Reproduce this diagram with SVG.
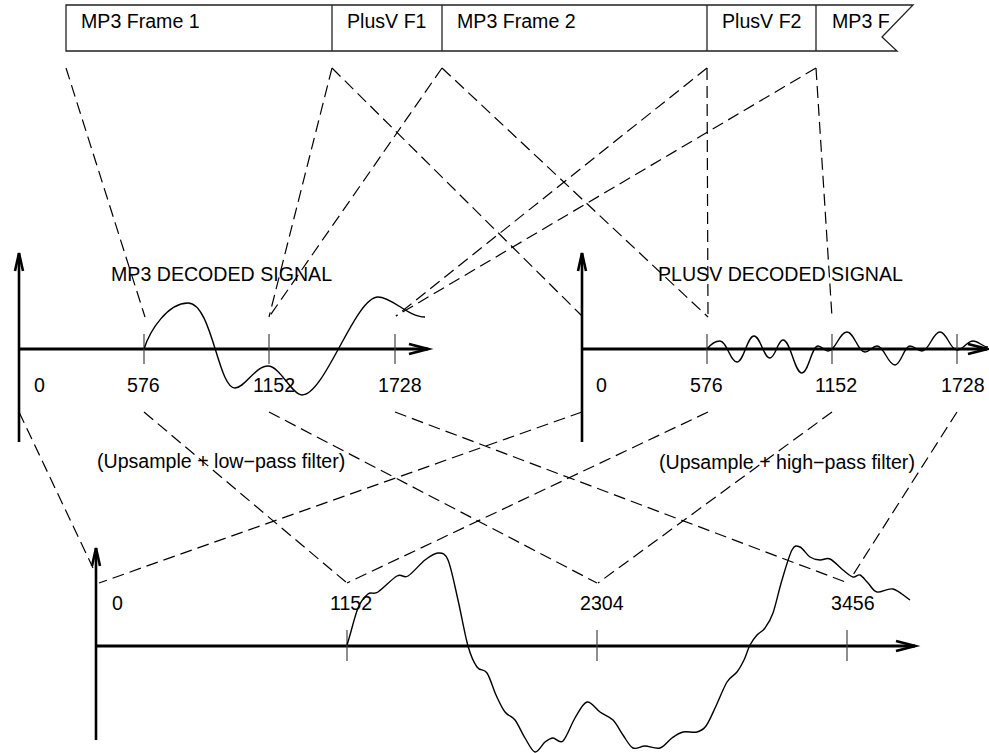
<svg xmlns="http://www.w3.org/2000/svg" width="989" height="753" viewBox="0 0 989 753">
<defs>
<style>
text { font-family: "Liberation Sans", Arial, Helvetica, sans-serif; font-size: 19.6px; fill: #000; }
.frame { fill: #fff; stroke: #222; stroke-width: 1.3; }
.div { stroke: #222; stroke-width: 1.3; }
.axis { stroke: #000; stroke-width: 3; fill: none; }
.yaxis { stroke: #000; stroke-width: 2.6; fill: none; }
.tick { stroke: #444; stroke-width: 1.2; }
.sig { stroke: #000; stroke-width: 1.4; fill: none; }
.dash { stroke: #000; stroke-width: 1.2; stroke-dasharray: 12 6; fill: none; }
</style>
<marker id="ax" markerUnits="userSpaceOnUse" markerWidth="26" markerHeight="16" refX="21" refY="8" orient="auto" overflow="visible">
<path d="M2,3 L21,8 L2,13" fill="none" stroke="#000" stroke-width="2.8"/>
</marker>
<marker id="ay" markerUnits="userSpaceOnUse" markerWidth="24" markerHeight="12" refX="20" refY="6" orient="auto" overflow="visible">
<path d="M2,2 L20,6 L2,10" fill="none" stroke="#000" stroke-width="2.6"/>
</marker>
<clipPath id="flagclip"><polygon points="66,5 913,5 882,37 897,51 66,51"/></clipPath>
</defs>

<g id="bitstream">
<polygon class="frame" points="66,5 913,5 882,37 897,51 66,51"/>
<line class="div" x1="332" y1="5" x2="332" y2="51"/>
<line class="div" x1="442" y1="5" x2="442" y2="51"/>
<line class="div" x1="707" y1="5" x2="707" y2="51"/>
<line class="div" x1="816" y1="5" x2="816" y2="51"/>
<text x="81" y="28">MP3 Frame 1</text>
<text x="347" y="28">PlusV F1</text>
<text x="457" y="28">MP3 Frame 2</text>
<text x="722" y="28">PlusV F2</text>
<text x="832" y="28" clip-path="url(#flagclip)">MP3 F</text>
</g>

<g id="mp3-plot">
<line class="yaxis" x1="19" y1="442" x2="19" y2="253" marker-end="url(#ay)"/>
<line class="axis" x1="19" y1="349" x2="428" y2="349" marker-end="url(#ax)"/>
<line class="tick" x1="144" y1="334" x2="144" y2="364"/>
<line class="tick" x1="269" y1="334" x2="269" y2="364"/>
<line class="tick" x1="395" y1="334" x2="395" y2="364"/>
<text x="34" y="392">0</text>
<text x="127" y="392">576</text>
<text x="253" y="392">1152</text>
<text x="378" y="392">1728</text>
<text x="111" y="281">MP3 DECODED SIGNAL</text>
<text x="97" y="468">(Upsample + low−pass filter)</text>
<path class="sig" d="M144,349 C150,330 168,303 188,303 C212,303 218,388 235,388 C245,388 255,366 268,366 C280,366 292,395 302,395 C325,395 355,297 378,297 C392,297 408,317 425,317"/>
</g>

<g id="plusv-plot">
<line class="yaxis" x1="582" y1="442" x2="582" y2="253" marker-end="url(#ay)"/>
<line class="axis" x1="582" y1="349" x2="987" y2="349" marker-end="url(#ax)"/>
<line class="tick" x1="707" y1="334" x2="707" y2="364"/>
<line class="tick" x1="832" y1="334" x2="832" y2="364"/>
<line class="tick" x1="957" y1="334" x2="957" y2="364"/>
<text x="596" y="392">0</text>
<text x="690" y="392">576</text>
<text x="815" y="392">1152</text>
<text x="941" y="392">1728</text>
<text x="658" y="281">PLUSV DECODED SIGNAL</text>
<text x="659" y="469">(Upsample + high−pass filter)</text>
<path class="sig" d="M707,349 C711,344 715,341 720,341 C726.8,341 730.2,362 737,362 C743.8,362 747.2,336 754,336 C760.4,336 763.6,358 770,358 C775.2,358 777.8,340 783,340 C790.6,340 794.4,373 802,373 C808.4,373 811.6,346 818,346 C822,346 824,351 828,351 C835.6,351 839.4,332 847,332 C854.2,332 857.8,352 865,352 C869.8,352 872.2,346 877,346 C884.2,346 887.8,365 895,365 C901,365 904,346 910,346 C914.8,346 917.2,351 922,351 C929.2,351 932.8,332 940,332 C946.8,332 950.2,350 957,350 C963.4,350 966.6,341 973,341 C979,341 982,347 988,347"/>
</g>

<g id="output-plot">
<line class="yaxis" x1="96" y1="740" x2="96" y2="548" marker-end="url(#ay)"/>
<line class="axis" x1="96" y1="646" x2="915" y2="646" marker-end="url(#ax)"/>
<line class="tick" x1="347" y1="630" x2="347" y2="661"/>
<line class="tick" x1="597" y1="630" x2="597" y2="661"/>
<line class="tick" x1="847" y1="630" x2="847" y2="661"/>
<text x="112" y="610">0</text>
<text x="330" y="610">1152</text>
<text x="580" y="610">2304</text>
<text x="831" y="610">3456</text>
<path class="sig" d="M347,645 C351,633 354.5,616.5 358,608 S364.7,596.7 368,594 S373.2,595 378,592 S392,578.7 397,576 S403.3,578.7 408,576 S420,563.8 425,560 S434.2,553 438,553 S444.7,552.2 448,560 S454.7,585.7 458,600 S464.8,634.8 468,646 S473.8,662.5 477,667 S483.8,668.3 487,673 S493,688.5 496,695 S501.8,707.8 505,712 S511.7,715.7 515,720 S521.7,732.7 525,738 S531.7,751.3 535,752 S542,744.3 545,742 S550,738.2 553,738 S559.3,744.3 563,741 S571,724.5 575,718 S582.8,703 587,702 S595.7,709 600,712 S609.2,716.2 613,720 S619.7,730.3 623,735 S629.3,746.2 633,748 S640.5,746 645,746 S655.5,749.3 660,748 S668.2,740.7 672,738 S678.8,733 683,732 S693.2,733 697,732 S702.8,730.3 706,726 S712.5,713.3 716,706 S723.5,687.7 727,682 S734.2,675.7 737,672 S741.8,664.5 744,660 S747.8,649.2 750,645 S754.5,637.8 757,635 S762.3,631.7 765,628 S770.2,621 773,613 S778.8,590.5 782,580 S789,555.5 792,550 S797,545.8 800,547 S806.7,554.8 810,557 S816.7,559.7 820,560 S826.2,557.3 830,559 S839.2,567 843,570 S850.2,576.2 853,577 S857.5,574 860,575 S865.2,580.2 868,583 S872.8,591 877,592 S887.5,587.7 893,589 S904.3,596.3 910,600"/>
</g>

<g id="connectors">
<line class="dash" x1="66" y1="68" x2="145" y2="317"/>
<line class="dash" x1="332" y1="68" x2="269" y2="317"/>
<line class="dash" x1="332" y1="68" x2="582" y2="316"/>
<line class="dash" x1="442" y1="68" x2="269" y2="317"/>
<line class="dash" x1="442" y1="68" x2="708" y2="317"/>
<line class="dash" x1="707" y1="68" x2="708" y2="317"/>
<line class="dash" x1="707" y1="68" x2="396" y2="316"/>
<line class="dash" x1="816" y1="68" x2="832" y2="317"/>
<line class="dash" x1="816" y1="68" x2="396" y2="316"/>
<line class="dash" x1="19" y1="412" x2="93" y2="568"/>
<line class="dash" x1="144" y1="412" x2="347" y2="583"/>
<line class="dash" x1="269" y1="412" x2="597" y2="583"/>
<line class="dash" x1="395" y1="412" x2="848" y2="583"/>
<line class="dash" x1="582" y1="412" x2="99" y2="583"/>
<line class="dash" x1="708" y1="412" x2="347" y2="583"/>
<line class="dash" x1="832" y1="412" x2="598" y2="583"/>
<line class="dash" x1="957" y1="412" x2="851" y2="578"/>
</g>
</svg>
